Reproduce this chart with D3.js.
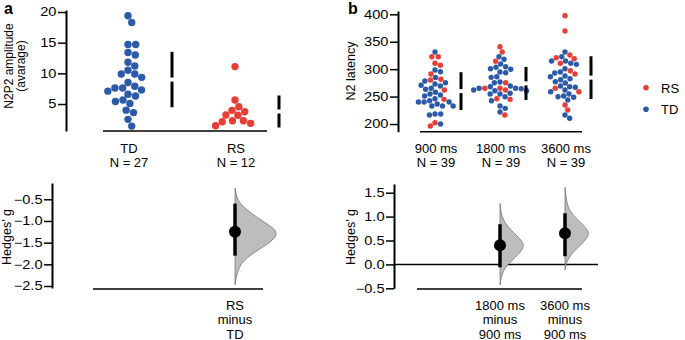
<!DOCTYPE html>
<html>
<head>
<meta charset="utf-8">
<script src="https://cdn.jsdelivr.net/npm/d3@7"></script>
<style>
  body { margin: 0; background: #fff; }
  svg { display: block; font-family: "Liberation Sans", Arial, sans-serif; }
</style>
</head>
<body>
<svg id="chart" width="685" height="340"></svg>
<script>
// ---- data ----
const groupsA = ["TD", "RS"];
const countsA = [27, 12];
const ampTD = [19.4, 18.3, 14.7, 14.7, 13.0, 13.4, 11.8, 11.2, 10.5, 9.35, 9.9, 9.9, 8.5,
  7.6, 7.1, 7.9, 7.6, 7.3, 6.3, 6.6, 5.4, 5.1, 5.65, 4.0, 3.6, 2.5, 1.4];
const ampRS = [11.1, 5.65, 4.56, 3.75, 3.97, 3.16, 3.2, 2.28, 1.85, 1.46, 2.28, 2.1];

const contrastLabelsA = [["RS", "minus", "TD"]];
const effectA = [-1.25];
const ciLowA = [-1.80];
const ciHighA = [-0.60];
// bootstrap distribution outline: [hedges g, relative density]
const bootA = [[-0.24, 0], [-0.45, 0.04], [-0.6, 0.12], [-0.8, 0.35], [-1.0, 0.65], [-1.15, 0.9],
  [-1.27, 1], [-1.4, 0.95], [-1.55, 0.75], [-1.7, 0.5], [-1.85, 0.28], [-2.0, 0.13],
  [-2.2, 0.05], [-2.47, 0]];

const groupsB = ["900 ms", "1800 ms", "3600 ms"];
const countsB = [39, 39, 39];
const rs900 = [322.7, 322.7, 310.7, 307, 291.2, 281.5, 280.2, 262, 245, 202.4, 196.4];
const td900 = [331.3, 298.5, 295.4, 285, 275.3, 270.6, 265.1, 263.3, 272.9, 278.4, 269.3, 254.7,
  251, 252.9, 246.1, 236.5, 242.5, 240.1, 232.8, 240.1, 232.8, 240.1, 232.8, 218.2, 216.4,
  218.2, 200, 258];
const rs1800 = [340.9, 331.3, 314.3, 275.3, 265.1, 262, 265.1, 246.1, 245, 216.4];
const td1800 = [322.7, 318, 309.4, 304.5, 300.8, 299.7, 303.4, 294.8, 293.5, 286.2, 285.1,
  276.6, 275.3, 269.3, 265.1, 265.1, 260.7, 262, 264.4, 268, 260.7, 254.7, 256, 254.7,
  249.8, 242.5, 228.6, 232.8, 221.9];
const rs3600 = [397.4, 369.6, 325.8, 320.9, 319.1, 310.7, 297.2, 291.2, 265.1, 258.9, 234.6, 225.5];
const td3600 = [331.3, 322.7, 314.9, 308.8, 314.9, 310.7, 300.8, 294.8, 287.5, 293, 286.2,
  282.6, 277.1, 274.8, 280.8, 268, 266.9, 262, 269.3, 258.9, 251, 249.8, 254.7, 248.7,
  243.8, 216.4, 210.4];

const contrastGroupsB = ["1800 ms", "3600 ms"];
const contrastLabelsB = [["1800 ms", "minus", "900 ms"], ["3600 ms", "minus", "900 ms"]];
const effectB = [0.40, 0.65];
const ciLowB = [-0.06, 0.17];
const ciHighB = [0.84, 1.07];
const bootB1800 = [[1.28, 0], [1.1, 0.04], [0.95, 0.12], [0.8, 0.3], [0.65, 0.6], [0.5, 0.9],
  [0.4, 1], [0.3, 0.92], [0.15, 0.65], [0.0, 0.32], [-0.15, 0.12], [-0.3, 0.04], [-0.43, 0]];
const bootB3600 = [[1.61, 0], [1.4, 0.04], [1.2, 0.12], [1.05, 0.3], [0.9, 0.6], [0.75, 0.9],
  [0.65, 1], [0.55, 0.92], [0.4, 0.65], [0.25, 0.32], [0.1, 0.12], [0.0, 0.04], [-0.12, 0]];

const legendKeys = ["RS", "TD"];
const colors = { RS: "#e83e35", TD: "#2b5ba8" };

// ---- helpers ----
const svg = d3.select("#chart");
const fontSize = "13px";
const tickStretch = 1.22; // tick labels in the figure are set wider than the other text

// simple beeswarm: sort by pixel y, put each dot at the free offset nearest to the centre
function swarm(points, y, r) {
  const d = 2 * r + 0.3;
  const items = points.map((p) => ({ ...p, py: y(p.v) })).sort((a, b) => a.py - b.py);
  const placed = [];
  items.forEach((p) => {
    const near = placed.filter((q) => Math.abs(q.py - p.py) < d);
    const cands = [0];
    near.forEach((q) => {
      const dx = Math.sqrt(d * d - (q.py - p.py) ** 2);
      cands.push(q.dx + dx, q.dx - dx);
    });
    cands.sort((a, b) => Math.abs(a) - Math.abs(b));
    p.dx = cands.find((c) =>
      near.every((q) => (q.dx - c) ** 2 + (q.py - p.py) ** 2 >= d * d - 0.01));
    placed.push(p);
  });
  return items;
}

function yAxis(g, scale, x, ticks, fmt) {
  const ax = g.append("g")
    .attr("transform", `translate(${x},0)`)
    .call(d3.axisLeft(scale).tickValues(ticks).tickFormat(fmt)
      .tickSize(8).tickSizeOuter(0).tickPadding(1.5));
  ax.select(".domain").attr("stroke-width", 2);
  ax.selectAll(".tick line").attr("stroke-width", 1.5);
  ax.selectAll(".tick text")
    .attr("font-size", "12px").attr("fill", "#000")
    .attr("font-family", "Liberation Sans, Arial, sans-serif")
    .attr("x", -9.5 / tickStretch)
    .attr("transform", `scale(${tickStretch},1)`);
  return ax;
}

function hline(x1, x2, y, w) {
  svg.append("line").attr("x1", x1).attr("x2", x2).attr("y1", y).attr("y2", y)
    .attr("stroke", "#000").attr("stroke-width", w || 1.5);
}

function yLabel(lines, x, cy, lh, size) {
  const t = svg.append("text")
    .attr("transform", `translate(${x},${cy}) rotate(-90)`)
    .attr("text-anchor", "middle").attr("font-size", size || "12.5px");
  lines.forEach((s, i) => {
    t.append("tspan").attr("x", 0).attr("y", (i - lines.length + 1) * lh).text(s);
  });
}

function stackLabel(lines, x, y0, lh) {
  lines.forEach((s, i) => {
    svg.append("text").attr("x", x).attr("y", y0 + i * lh)
      .attr("text-anchor", "middle").attr("font-size", fontSize).text(s);
  });
}

function meanSd(values, y, x, gap) {
  const m = d3.mean(values);
  const sd = d3.deviation(values);
  const seg = [[y(m + sd), y(m) - gap / 2], [y(m) + gap / 2, y(m - sd)]];
  seg.forEach((s) => {
    svg.append("line").attr("x1", x).attr("x2", x).attr("y1", s[0]).attr("y2", s[1])
      .attr("stroke", "#000").attr("stroke-width", 3);
  });
}

function contrast(x, y, g, lo, hi, boot, width) {
  const area = d3.area()
    .y((d) => y(d[0]))
    .x0(x)
    .x1((d) => x + d[1] * width)
    .curve(d3.curveBasis);
  svg.append("path").datum(boot).attr("d", area)
    .attr("fill", "#bdbdbd").attr("stroke", "#555").attr("stroke-width", 0.6);
  svg.append("line").attr("x1", x).attr("x2", x).attr("y1", y(hi)).attr("y2", y(lo))
    .attr("stroke", "#000").attr("stroke-width", 3.5);
  svg.append("circle").attr("cx", x).attr("cy", y(g)).attr("r", 6).attr("fill", "#000");
}

// ---- panel a ----
const xA = d3.scalePoint().domain(groupsA).range([128, 235]);
const yA = d3.scaleLinear().domain([0.6, 20.33]).range([131, 10]);
yAxis(svg, yA, 66, [5, 10, 15, 20], d3.format("d"));
hline(103, 267, 131);
yLabel(["N2P2 amplitude", "(avarage)"], 25, 66, 12.5, "12px");

[ampTD, ampRS].forEach((vals, i) => {
  const key = groupsA[i];
  const pts = swarm(vals.map((v) => ({ v })), yA, 3.7);
  svg.append("g").selectAll("circle").data(pts).join("circle")
    .attr("cx", (d) => xA(key) + d.dx)
    .attr("cy", (d) => d.py)
    .attr("r", 3.7)
    .attr("fill", colors[key]);
  meanSd(vals, yA, xA(key) + 44, 4);
  stackLabel([key, `N = ${countsA[i]}`], xA(key) + 1, 152.7, 14.6);
});

svg.append("text").attr("x", 4).attr("y", 14).attr("font-size", "16px")
  .attr("font-weight", "bold").text("a");

const yA2 = d3.scaleLinear().domain([-2.546, -0.124]).range([288, 183]);
yAxis(svg, yA2, 52, [-0.5, -1.0, -1.5, -2.0, -2.5], d3.format(".1f"));
hline(93, 263, 289);
yLabel(["Hedges' g"], 10.5, 237, 12.5);
contrastLabelsA.forEach((lines, i) => {
  const cx = xA(groupsA[1]);
  contrast(cx, yA2, effectA[i], ciLowA[i], ciHighA[i], bootA, 42);
  stackLabel(lines, cx, 310.3, 14.1);
});

// ---- panel b ----
const xB = d3.scalePoint().domain(groupsB).range([435, 565]);
const yB = d3.scaleLinear().domain([186, 406]).range([131.7, 11]);
yAxis(svg, yB, 398, [200, 250, 300, 350, 400], d3.format("d"));
hline(420, 582, 131.7);
yLabel(["N2 latency"], 355, 71, 12.5);

const groupData = [[rs900, td900], [rs1800, td1800], [rs3600, td3600]];
groupData.forEach((pair, i) => {
  const key = groupsB[i];
  const pts = swarm(
    pair[0].map((v) => ({ v, c: "RS" })).concat(pair[1].map((v) => ({ v, c: "TD" }))),
    yB, 2.7);
  svg.append("g").selectAll("circle").data(pts).join("circle")
    .attr("cx", (d) => xB(key) + d.dx)
    .attr("cy", (d) => d.py)
    .attr("r", 2.7)
    .attr("fill", (d) => colors[d.c]);
  meanSd(pair[0].concat(pair[1]), yB, xB(key) + 26, 4);
  stackLabel([key, `N = ${countsB[i]}`], xB(key) + 1, 152.7, 14.6);
});

svg.append("text").attr("x", 348).attr("y", 14).attr("font-size", "16px")
  .attr("font-weight", "bold").text("b");

// legend
legendKeys.forEach((k, i) => {
  svg.append("circle").attr("cx", 646).attr("cy", 87.7 + i * 21.6).attr("r", 2.8)
    .attr("fill", colors[k]);
  svg.append("text").attr("x", 661).attr("y", 92.5 + i * 21.6)
    .attr("font-size", "13px").text(k);
});

const yB2 = d3.scaleLinear().domain([-0.5, 1.682]).range([288.3, 184]);
yAxis(svg, yB2, 394, [-0.5, 0.0, 0.5, 1.0, 1.5], d3.format(".1f"));
hline(394, 598, yB2(0));
hline(417, 582, 289);
yLabel(["Hedges' g"], 355, 237, 12.5);
const bootsB = [bootB1800, bootB3600];
contrastGroupsB.forEach((key, i) => {
  const cx = xB(key);
  contrast(cx, yB2, effectB[i], ciLowB[i], ciHighB[i], bootsB[i], 24);
  stackLabel(contrastLabelsB[i], cx, 310.3, 14.1);
});
</script>
</body>
</html>
